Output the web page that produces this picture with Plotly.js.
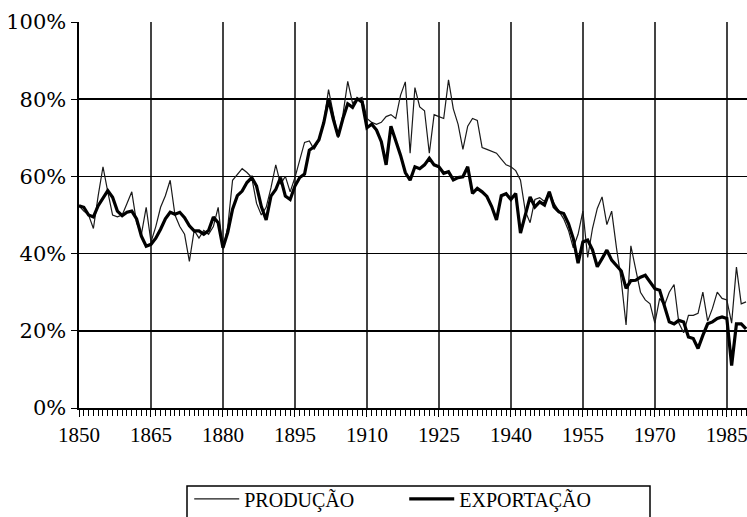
<!DOCTYPE html>
<html>
<head>
<meta charset="utf-8">
<script src="https://cdn.plot.ly/plotly-3.0.1.min.js"></script>
<style>html,body{margin:0;padding:0;background:#fff;}#chart{width:747px;height:517px;}</style>
</head>
<body>
<div id="chart"></div>
<script>
// Years 1850–1989
const startYear = 1850;
const producao = [
  52.4, 51, 50, 46.5, 55, 62.5, 56, 50, 49.5, 50,
  53, 56, 48, 45, 52, 43, 47, 52, 55, 59,
  50, 47, 45, 38, 46, 44, 46, 45, 47, 52,
  41, 47, 59, 60.6, 62, 61, 59.7, 53, 50, 52,
  57, 63, 58, 60, 56, 59.7, 64.4, 68.8, 69.2, 67,
  69.2, 74, 82.5, 76, 70, 76, 84.6, 79, 80, 80.5,
  75, 74, 73.5, 74, 75.5, 76, 75, 81, 84.5, 66,
  83, 78, 77, 66, 76, 75.5, 75, 85, 77.5, 73.5,
  67, 73, 75, 74.5, 67.5, 67, 66.5, 66, 64.5, 63,
  62.5, 61.5, 59, 51, 48, 54, 54.5, 53.5, 56, 53,
  51, 49, 46, 41.5, 45, 51, 39, 46.5, 51.7, 54.7,
  47.5, 51, 41.5, 33, 21.5, 42, 36, 30, 28, 27,
  22, 28.4, 26.6, 30, 32, 22, 19.5, 24, 24, 24.5,
  30, 22.5, 25.8, 30, 28.4, 28, 22, 36.5, 27, 27.5
];
const exportacao = [
  52.4, 52, 50, 49.5, 52.4, 54.5, 56.3, 54.6, 51, 49.8,
  50.7, 51, 49, 44.5, 41.9, 42.4, 44, 46.3, 49, 50.7,
  50.2, 50.7, 49.3, 47.2, 45.9, 45.9, 45, 46, 49.5, 48,
  41.5, 45.5, 51.5, 55, 56.2, 58.4, 59.7, 57.5, 52.2, 48.7,
  54.9, 56.6, 59.7, 54.9, 54, 57.5, 59.7, 60.6, 66.8, 67.7,
  69.5, 73.9, 80, 74.8, 70.4, 75, 78.8, 77.9, 80.1, 79.2,
  72.6, 73.5, 72, 69, 63, 73, 69.5, 65.5, 61, 59,
  62.5, 62, 63, 64.7, 63, 62.5, 60.8, 61.2, 59.1, 59.7,
  59.9, 62.5, 55.6, 56.9, 56, 54.8, 52.2, 48.7, 55, 55.5,
  54, 55.6, 45.3, 50, 54.7, 52.1, 53.4, 52.6, 56, 52.1,
  50.8, 50.4, 47.8, 43.9, 37.5, 43, 43.5, 41, 36.6, 38.7,
  40.9, 38.3, 37, 35.5, 31, 33, 33.1, 33.9, 34.4, 32.7,
  30.9, 30.5, 26.6, 22.3, 21.8, 22.7, 22.3, 18.4, 18, 15.4,
  18.8, 21.8, 22.3, 23.2, 23.6, 23.2, 11, 21.8, 21.8, 20.5
];
const years = producao.map((_, i) => startYear + i);
const seriesNames = ['PRODUÇÃO', 'EXPORTAÇÃO'];
const yTickVals = [0, 20, 40, 60, 80, 100];
const yTickText = ['0%', '20%', '40%', '60%', '80%', '100%'];

const FONT_X = 'Liberation Serif';
const FONT_Y = 'DejaVu Serif';
const FONT_L = 'Times New Roman';

const traces = [
  {x: years, y: producao, name: seriesNames[0], type: 'scatter', mode: 'lines',
   line: {color: '#1a1a1a', width: 1.2}},
  {x: years, y: exportacao, name: seriesNames[1], type: 'scatter', mode: 'lines',
   line: {color: '#000', width: 3.2}}
];

const layout = {
  width: 747, height: 517,
  margin: {l: 79, r: 0, t: 22, b: 109, autoexpand: false},
  paper_bgcolor: '#fff', plot_bgcolor: '#fff',
  font: {family: 'serif', size: 20, color: '#000'},
  showlegend: true,
  legend: {
    orientation: 'h', x: 0.165, xanchor: 'left', y: -0.185, yanchor: 'top',
    borderwidth: 0, bgcolor: 'rgba(0,0,0,0)',
    font: {family: FONT_L, size: 20, color: '#000'},
    itemwidth: 45, entrywidth: 155, entrywidthmode: 'pixels',
    traceorder: 'normal'
  },
  shapes: [
    {type: 'rect', xref: 'paper', yref: 'paper',
     x0: (187 - 79) / 668, x1: (650 - 79) / 668,
     y0: (408 - 540) / 386, y1: (408 - 486) / 386,
     line: {color: '#000', width: 1.5}, fillcolor: 'rgba(0,0,0,0)', layer: 'below'}
  ],
  xaxis: {
    range: [1850, 1989.2], tick0: 1850, dtick: 15, tickmode: 'linear',
    showgrid: true, gridcolor: '#444', gridwidth: 1.5,
    showline: true, linecolor: '#000', linewidth: 2,
    ticks: 'outside', ticklen: 7, tickcolor: '#000', tickwidth: 1,
    minor: {dtick: 1, tick0: 1850, ticks: 'outside', ticklen: 6, tickcolor: '#000', tickwidth: 1, showgrid: false},
    tickfont: {family: FONT_X, size: 21, color: '#000'},
    ticklabeloverflow: 'allow',
    zeroline: false, fixedrange: true
  },
  yaxis: {
    range: [0, 100], tickmode: 'array', tickvals: yTickVals, ticktext: yTickText,
    showgrid: true, gridcolor: '#000', gridwidth: 1.5,
    showline: true, linecolor: '#000', linewidth: 2.5,
    ticks: 'outside', ticklen: 6, tickcolor: '#000', tickwidth: 1,
    tickfont: {family: FONT_Y, size: 21, color: '#000'},
    zeroline: false, fixedrange: true
  }
};

Plotly.newPlot('chart', traces, layout, {staticPlot: true, displayModeBar: false});
</script>
</body>
</html>
